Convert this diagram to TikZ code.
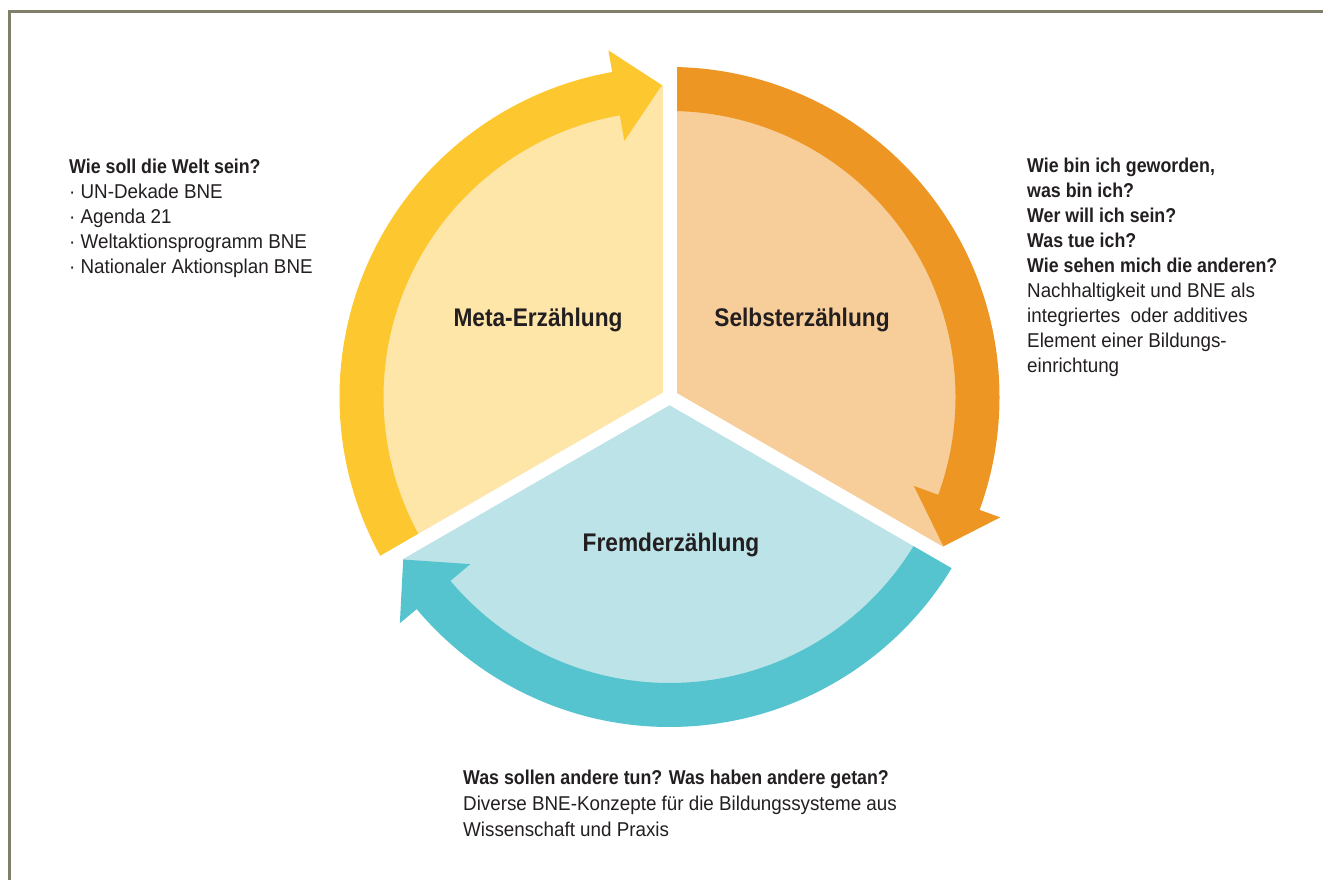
\documentclass[tikz,border=0pt]{standalone}
\usepackage{fontspec}
\setmainfont{Liberation Sans}[FakeStretch=0.94, BoldFeatures={FakeStretch=0.89}]
\usepackage{xcolor}
\usepackage{tikz}

\definecolor{framegray}{RGB}{127,127,106}
\definecolor{yellowband}{RGB}{253,200,47}
\definecolor{yellowlight}{RGB}{254,229,168}
\definecolor{orangeband}{RGB}{238,150,35}
\definecolor{orangelight}{RGB}{247,206,154}
\definecolor{tealband}{RGB}{85,196,206}
\definecolor{teallight}{RGB}{188,227,232}
\definecolor{textdark}{RGB}{35,31,32}

\begin{document}
\begin{tikzpicture}[x=1pt,y=1pt]
			\tikzstyle{every node}=[inner sep=0pt, text=textdark];
			\tikzstyle{infotext}=[anchor=north west, align=left, font=\fontsize{20}{25}\selectfont];
			\tikzstyle{sectortitle}=[font=\fontsize{25.5}{29}\selectfont\bfseries];
			\tikzstyle{gapline}=[white, line width=14pt];
			
			\useasboundingbox (0,0) rectangle (1323,880);
			
			%Frame
			\draw[framegray, line width=3pt] (9.5,0) -- (9.5,868.5) -- (1323,868.5);
			
			\begin{scope}[shift={(669.5,483)}]
			\coordinate (centre) at (0,0);
			
			%Light sectors
			\fill[yellowlight] (centre) -- (210:312) arc[start angle=210, end angle=90, radius=312] -- cycle;
			\fill[orangelight] (centre) -- (90:312) arc[start angle=90, end angle=-30, radius=312] -- cycle;
			\fill[teallight] (centre) -- (-30:312) arc[start angle=-30, end angle=-150, radius=312] -- cycle;
			
			%Arrows
			\fill[yellowband] (210:286) arc[start angle=210, end angle=100, radius=286]
				-- (100:260) -- (91.4:312) -- (100:352) -- (100:330)
				arc[start angle=100, end angle=210, radius=330] -- cycle;
			\fill[orangeband] (90:286) arc[start angle=90, end angle=-20, radius=286]
				-- (-20:260) -- (-28.6:312) -- (-20:352) -- (-20:330)
				arc[start angle=-20, end angle=90, radius=330] -- cycle;
			\fill[tealband] (-30:286) arc[start angle=-30, end angle=-140, radius=286]
				-- (-140:260) -- (-148.6:312) -- (-140:352) -- (-140:330)
				arc[start angle=-140, end angle=-30, radius=330] -- cycle;
			
			%Gaps
			\draw[gapline] (centre) -- (90:365);
			\draw[gapline] (centre) -- (210:365);
			\draw[gapline] (centre) -- (330:365);
			\end{scope}
			
			%Titles
			\node[sectortitle] (meta) at (538,560) {Meta-Erzählung};
			\node[sectortitle] (selbst) at (802,560) {Selbsterzählung};
			\node[sectortitle] (fremd) at (671,335) {Fremderzählung};
			
			%Texts
			\node[infotext] (metaText) at (69,721.5) {\textbf{Wie soll die Welt sein?}\\
				· UN-Dekade BNE\\ · Agenda 21\\ · Weltaktionsprogramm BNE\\ · Nationaler Aktionsplan BNE};
			\node[infotext] (selbstText) at (1027,722.5) {\textbf{Wie bin ich geworden,}\\
				\textbf{was bin ich?}\\ \textbf{Wer will ich sein?}\\ \textbf{Was tue ich?}\\
				\textbf{Wie sehen mich die anderen?}\\ Nachhaltigkeit und BNE als\\
				integriertes\ \ oder additives\\ Element einer Bildungs-\\ einrichtung};
			\node[infotext, font=\fontsize{20}{26}\selectfont] (fremdText) at (463,110.5) {\textbf{Was sollen andere tun? Was haben andere getan?}\\
				Diverse BNE-Konzepte für die Bildungssysteme aus\\ Wissenschaft und Praxis};
\end{tikzpicture}
\end{document}
